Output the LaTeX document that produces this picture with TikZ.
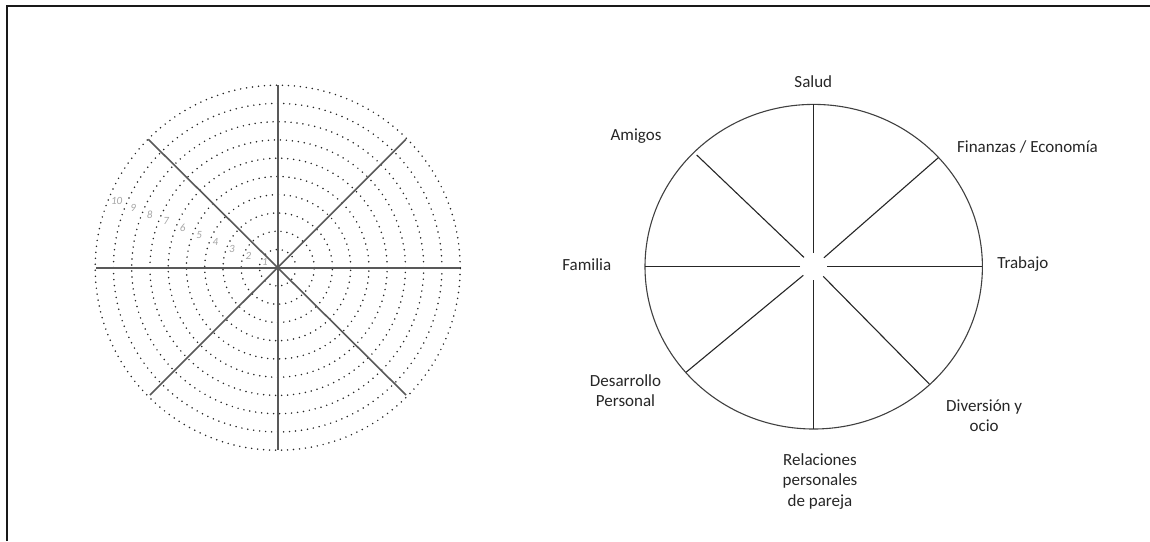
\documentclass[tikz,border=0pt]{standalone}
\usepackage{fontspec}
\setmainfont{Carlito}
\usetikzlibrary{calc}
\begin{document}
\begin{tikzpicture}[x=1pt,y=-1pt,
  frameline/.style={line width=2pt,draw=black!90},
  ringdots/.style={draw=black!85,line width=1.7pt,line cap=round,dash pattern=on 0pt off 6pt},
  gridspoke/.style={draw=black!65,line width=1.6pt},
  scalenum/.style={font=\fontsize{11}{13}\selectfont\itshape,text=black!35,inner sep=0pt},
  rim/.style={draw=black!75,line width=1.1pt},
  spoke/.style={draw=black!85,line width=1.1pt},
  area/.style={font=\fontsize{17}{20.5}\selectfont,text=black!85,align=center,inner sep=0pt,anchor=base}]
\useasboundingbox (0,0) rectangle (1150,541);

% page frame (top and left edges)
\draw[frameline] (7,541) -- (7,6) -- (1150,6);

% ---------- scoring wheel ----------
\coordinate (L) at (277.7,267.7);
\foreach \k in {1,...,10}
  \draw[ringdots] (L) circle[radius=18.25*\k pt];
\coordinate (Ln) at (277.7,85);
\coordinate (Ls) at (277.7,450);
\coordinate (Lw) at (96,267.7);
\coordinate (Le) at (460,267.7);
\coordinate (Lnw) at (148.3,139.3);
\coordinate (Lne) at (406,139.3);
\coordinate (Lsw) at (150,395);
\coordinate (Lse) at (406,395);
\draw[gridspoke] (Ln) -- (Ls);
\draw[gridspoke] (Lw) -- (Le);
\draw[gridspoke] (Lnw) -- (Lse);
\draw[gridspoke] (Lne) -- (Lsw);
\foreach \k in {1,...,10}
  \node[scalenum] (n\k) at ({277.7-0.923*(17.84*\k-4)},{267.7-0.384*(17.84*\k-4)}) {\k};

% ---------- life areas wheel ----------
\coordinate (R) at (813.7,266.7);
\draw[rim] (R) ellipse[x radius=168.7pt,y radius=162.3pt];
\coordinate (Rn) at (813.7,104.3);
\coordinate (Rs) at (813.7,429);
\coordinate (Rw) at (645,266.7);
\coordinate (Re) at (982.3,266.7);
\coordinate (Rne) at (938.3,157.7);
\coordinate (Rnw) at (696.7,155);
\coordinate (Rsw) at (686,372.3);
\coordinate (Rse) at (929.3,384);
\foreach \p in {Rn,Rs,Rw,Re,Rne,Rnw,Rsw,Rse}
  \draw[spoke] ($(R)!13.5pt!(\p)$) -- (\p);

% labels (multi-line nodes sit on the baseline of their last line)
\node[area] (salud) at (813.3,87) {Salud};
\node[area] (amigos) at (636,140) {Amigos};
\node[area] (finanzas) at (1027.5,152.3) {Finanzas / Economía};
\node[area] (trabajo) at (1022.8,268.3) {Trabajo};
\node[area] (familia) at (586.8,270) {Familia};
\node[area] (desarrollo) at (625.5,406.7) {Desarrollo\\Personal};
\node[area] (diversion) at (984.2,431.7) {Diversión y\\ocio};
\node[area] (relaciones) at (820,506) {Relaciones\\personales\\de pareja};
\end{tikzpicture}
\end{document}
